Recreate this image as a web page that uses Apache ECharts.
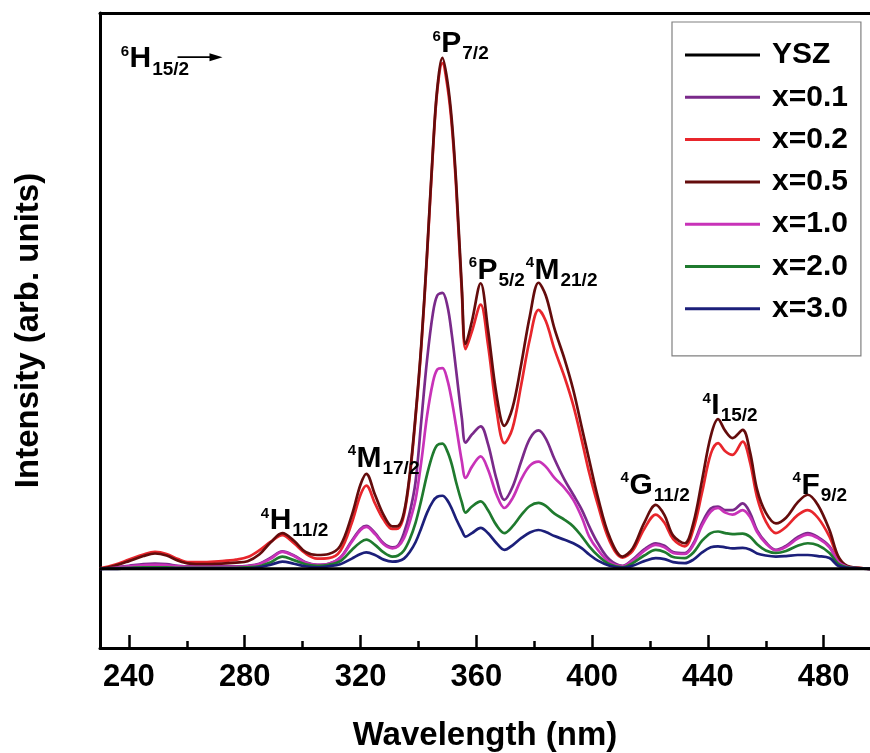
<!DOCTYPE html>
<html>
<head>
<meta charset="utf-8">
<script src="https://cdn.jsdelivr.net/npm/echarts@6/dist/echarts.min.js"></script>
<style>
  html, body { margin: 0; padding: 0; background: #fff; }
  #chart { width: 870px; height: 753px; }
</style>
</head>
<body>
<div id="chart"></div>
<script>
// Excitation spectra of Dy-doped YSZ samples (wavelength in nm, intensity in arb. units)
const wavelength = [
  230, 235, 240, 245, 249, 253, 257, 261, 266, 272, 277, 281, 285, 289,
  293, 297, 301, 305, 309, 313, 317, 320, 322, 325, 328, 331, 333,
  335, 337, 339, 341, 343, 345, 346.5, 348.3, 350, 351.5, 353, 355, 356.3,
  358.5, 361.5, 364, 367, 369.7, 372.5, 375.5, 378.5, 381.5, 384, 387, 390.5, 393.5, 396.5, 399, 402, 406, 410.5,
  414, 418, 422, 425, 428, 432, 435, 438, 441, 443.5, 446, 448.5, 452, 454.5, 457, 460, 463.5, 467, 471, 474.5, 478, 482, 485, 488, 492, 496
];

// Undoped host: flat response
const yszWavelength = [230, 496];
const yszIntensity = [0, 0];

const x01 = [
  0, 0.3, 0.6, 0.9, 1.0, 0.9, 0.6, 0.5, 0.5, 0.5, 0.5, 0.6, 1.0, 2.2,
  3.4, 2.6, 1.3, 0.8, 1.0, 2.2, 5.5, 7.8, 8.4, 7.0, 5.0, 4.2, 4.6,
  7, 11, 17, 29, 41, 50, 53.5, 54, 51.5, 46, 39, 29.5, 24.7,
  26.3, 27.9, 24.5, 17.5, 13.5, 16, 21, 25.5, 27.1, 25.5, 21.5, 17.4, 14.5, 11.5, 8.3, 5.0, 1.8, 0.6,
  1.8, 3.8, 5.0, 4.5, 3.3, 3.1, 5.0, 9, 11.8, 12.2, 11.5, 11.5, 12.8, 11, 7.5, 5.2, 3.7, 4.5, 6.2, 7.0, 6.2, 4.4, 1.5, 0.4, 0.1, 0
];
const x02 = [
  0.1, 0.8, 1.8, 2.8, 3.3, 2.9, 1.9, 1.3, 1.3, 1.5, 1.8, 2.3, 3.6, 5.3,
  6.6, 5.0, 3.0, 2.0, 2.1, 3.5, 9.0, 14.5, 16.3, 12.8, 9.6, 7.8, 7.9,
  10.5, 18, 29.5, 43.5, 61.5, 81.5, 93.5, 99, 94.5, 87, 75, 54, 43,
  46.5, 51.7, 44, 31, 24.6, 27.5, 36, 45, 50.7, 48.5, 43, 37.5, 32, 25, 18.8, 12.5, 5.5, 2.2,
  3.5, 7.8, 10.6, 9, 5.8, 4.4, 7.8, 15, 22.5, 24.6, 23, 22.3, 24.9, 21, 14, 9.3, 7.0, 8.2, 10.5, 11.5, 10, 6.3, 2.2, 0.5, 0.2, 0
];
const x05 = [
  0, 0.6, 1.5, 2.5, 3.0, 2.6, 1.6, 1.0, 0.9, 1.0, 1.2, 1.5, 2.8, 5.2,
  7.0, 5.5, 3.3, 2.7, 2.9, 4.5, 10.5, 16.5, 18.6, 14.5, 10.5, 8.3, 8.4,
  11, 18.5, 30, 44, 62, 82, 94, 100, 95.5, 88, 76, 55, 44,
  48.5, 55.9, 47, 34, 28, 31.5, 40, 49.5, 56, 53.5, 47, 41, 35, 27.5, 21.3, 14, 6.3, 2.4,
  4.0, 9.0, 12.5, 10.5, 6.5, 5.0, 9.0, 17.4, 26, 29.3, 27, 25.6, 27.2, 23, 15.5, 11, 8.9, 10, 13, 14.5, 12.5, 7.6, 2.5, 0.6, 0.2, 0
];
const x10 = [
  0, 0.2, 0.5, 0.7, 0.8, 0.7, 0.5, 0.4, 0.4, 0.4, 0.4, 0.5, 0.9, 2.0,
  3.3, 2.5, 1.2, 0.8, 1.0, 2.1, 5.3, 7.6, 8.2, 6.8, 4.8, 4.0, 4.4,
  6, 9.2, 13.5, 21, 30, 36.5, 39, 39.3, 37, 33, 28, 21, 17.8,
  20, 22, 19.5, 14.5, 11.9, 13.8, 17.5, 20.2, 21, 20, 17.8, 15.8, 13.5, 10, 6.3, 3.7, 1.3, 0.5,
  1.6, 3.5, 4.7, 4.2, 3.1, 2.9, 4.7, 8.5, 11.2, 11.9, 11, 10.6, 11.5, 10.2, 7.2, 5.0, 3.6, 4.3, 5.9, 6.7, 6.0, 4.2, 1.4, 0.4, 0.1, 0
];
const x20 = [
  0, 0.1, 0.2, 0.3, 0.3, 0.3, 0.2, 0.2, 0.2, 0.2, 0.2, 0.3, 0.5, 1.3,
  2.4, 1.7, 0.9, 0.6, 0.8, 1.5, 3.7, 5.2, 5.7, 4.7, 3.2, 2.4, 2.6,
  3.6, 5.8, 9, 13.5, 18.5, 22.5, 24.2, 24.5, 23, 20.5, 17, 13, 11,
  12.2, 13.2, 11.5, 8.5, 7.0, 8.3, 10.5, 12.3, 12.9, 12.3, 10.8, 9.6, 8.3, 6.3, 4.4, 2.6, 0.9, 0.3,
  1.1, 2.6, 3.7, 3.3, 2.3, 2.1, 3.2, 5.5, 7.0, 7.3, 7.0, 6.8, 6.9, 6.3, 4.8, 3.6, 3.1, 3.5, 4.5, 5.0, 4.6, 3.1, 1.0, 0.3, 0.1, 0
];
const x30 = [
  0, 0, 0.1, 0.1, 0.1, 0.1, 0.1, 0.1, 0.1, 0.1, 0.1, 0.1, 0.3, 0.8,
  1.4, 1.0, 0.5, 0.3, 0.5, 0.9, 2.0, 2.9, 3.2, 2.7, 1.8, 1.4, 1.5,
  2.0, 3.3, 5.2, 8, 11, 13.2, 14.1, 14.3, 13.4, 11.8, 9.8, 7.5, 6.3,
  7.0, 8.0, 7.0, 5.0, 3.7, 4.6, 6.0, 7.1, 7.6, 7.2, 6.4, 5.7, 5.0, 4.0, 2.8, 1.6, 0.6, 0.2,
  0.6, 1.5, 2.1, 1.9, 1.3, 1.1, 1.8, 3.2, 4.2, 4.4, 4.2, 4.0, 4.1, 3.8, 3.0, 2.6, 2.4, 2.5, 2.7, 2.7, 2.5, 2.1, 0.6, 0.2, 0.1, 0
];

const seriesNames = ['YSZ', 'x=0.1', 'x=0.2', 'x=0.5', 'x=1.0', 'x=2.0', 'x=3.0'];
const seriesColors = ['#000000', '#7a2a8a', '#e8262c', '#640c0c', '#c832b8', '#1f7a2e', '#1c1f7a'];

const majorTicks = [240, 280, 320, 360, 400, 440, 480];
const minorTicks = [260, 300, 340, 380, 420, 460];

// Spectroscopic term labels: superscript, letter, subscript, anchor (nm, intensity) at letter's baseline-left
const termLabels = [
  { sup: '6', main: 'H', sub: '15/2', at: [240.2, 98.0], arrow: true },
  { sup: '6', main: 'P', sub: '7/2', at: [347.9, 101.0] },
  { sup: '6', main: 'P', sub: '5/2', at: [360.4, 56.6] },
  { sup: '4', main: 'M', sub: '21/2', at: [380.1, 56.6] },
  { sup: '4', main: 'M', sub: '17/2', at: [318.6, 19.8] },
  { sup: '4', main: 'H', sub: '11/2', at: [288.6, 7.6] },
  { sup: '4', main: 'G', sub: '11/2', at: [412.9, 14.5] },
  { sup: '4', main: 'I', sub: '15/2', at: [441.2, 30.1] },
  { sup: '4', main: 'F', sub: '9/2', at: [472.3, 14.5] }
];

const FONT = 'Arial, "Liberation Sans", Helvetica, sans-serif';
const chart = echarts.init(document.getElementById('chart'), null, { renderer: 'canvas' });

function pairs(xs, ys) { return xs.map((x, i) => [x, ys[i]]); }

const curveValues = [null, x01, x02, x05, x10, x20, x30];
const series = seriesNames.map((name, i) => ({
  name,
  type: 'line',
  xAxisIndex: 0,
  yAxisIndex: 0,
  data: i === 0 ? pairs(yszWavelength, yszIntensity) : pairs(wavelength, curveValues[i]),
  showSymbol: false,
  symbol: 'none',
  smooth: i === 0 ? false : 0.35,
  color: seriesColors[i],
  lineStyle: { width: i === 0 ? 3 : 2.7, color: seriesColors[i] },
  z: i === 0 ? 5 : 2,
  silent: true,
  animation: false
}));

const axisBase = { type: 'value', min: 230, max: 496, splitLine: { show: false } };

const option = {
  animation: false,
  backgroundColor: '#ffffff',
  grid: { left: 100, right: 0, top: 13, bottom: 105, containLabel: false, outerBoundsMode: 'none' },
  xAxis: [
    Object.assign({}, axisBase, {
      position: 'bottom',
      axisLine: { onZero: false, lineStyle: { color: '#000', width: 3 } },
      axisTick: { inside: true, length: 13, customValues: majorTicks, lineStyle: { color: '#000', width: 2.5 } },
      axisLabel: { customValues: majorTicks, color: '#000', fontSize: 31, fontWeight: 'bold', fontFamily: FONT, margin: 14 },
      name: 'Wavelength (nm)',
      nameLocation: 'middle',
      nameGap: 71,
      nameTextStyle: { color: '#000', fontSize: 33, fontWeight: 'bold', fontFamily: FONT }
    }),
    Object.assign({}, axisBase, {
      position: 'bottom',
      axisLine: { show: false, onZero: false },
      axisTick: { inside: true, length: 7, customValues: minorTicks, lineStyle: { color: '#000', width: 2.5 } },
      axisLabel: { show: false }
    }),
    Object.assign({}, axisBase, {
      position: 'top',
      axisLine: { onZero: false, lineStyle: { color: '#000', width: 3 } },
      axisTick: { show: false },
      axisLabel: { show: false }
    })
  ],
  yAxis: {
    type: 'value',
    min: -15.5,
    max: 108.8,
    position: 'left',
    axisLine: { show: true, onZero: false, lineStyle: { color: '#000', width: 3 } },
    axisTick: { show: false },
    axisLabel: { show: false },
    splitLine: { show: false },
    name: 'Intensity (arb. units)',
    nameLocation: 'middle',
    nameGap: 55,
    nameTextStyle: { color: '#000', fontSize: 33, fontWeight: 'bold', fontFamily: FONT }
  },
  legend: {
    show: true,
    orient: 'vertical',
    left: 672,
    top: 22,
    padding: [12, 13, 26, 13],
    itemGap: 0.3,
    itemWidth: 75,
    itemHeight: 3,
    icon: 'rect',
    selectedMode: false,
    borderColor: '#808080',
    borderWidth: 1.2,
    backgroundColor: '#ffffff',
    textStyle: { color: '#000', fontSize: 30, fontWeight: 'bold', fontFamily: FONT, lineHeight: 42, padding: [0, 0, 0, 7] },
    data: seriesNames
  },
  series
};

chart.setOption(option);

// Place term labels at their data anchors, with super/subscripts measured from the main letter
const measureCtx = document.createElement('canvas').getContext('2d');
function textWidth(str, size) {
  measureCtx.font = 'bold ' + size + 'px ' + FONT;
  return measureCtx.measureText(str).width;
}
const MAIN = 30, SUP = 15, SUB = 19;
const graphics = [];
termLabels.forEach((t) => {
  const [px, py] = chart.convertToPixel({ gridIndex: 0 }, t.at);
  const wMain = textWidth(t.main, MAIN);
  const capTop = py - 0.716 * MAIN;
  const supBase = capTop - 1 + 0.716 * SUP;
  const subBase = py + 7;
  const txt = (x, base, size, str, align) => ({
    type: 'text',
    x: x,
    y: base - 0.31 * size,
    silent: true,
    z: 10,
    style: { text: str, fontSize: size, fontWeight: 'bold', fontFamily: FONT, fill: '#000', align: align, verticalAlign: 'middle' }
  });
  graphics.push(txt(px - 0.5, supBase, SUP, t.sup, 'right'));
  graphics.push(txt(px, py, MAIN, t.main, 'left'));
  const subX = px + wMain + 1;
  graphics.push(txt(subX, subBase, SUB, t.sub, 'left'));
  if (t.arrow) {
    const ay = py - 11;
    const x0 = px + 48, tip = px + 93;
    graphics.push({ type: 'line', silent: true, z: 10, shape: { x1: x0, y1: ay, x2: tip - 10, y2: ay }, style: { stroke: '#000', lineWidth: 1.6 } });
    graphics.push({ type: 'polygon', silent: true, z: 10, shape: { points: [[tip, ay], [tip - 13, ay - 4], [tip - 13, ay + 4]] }, style: { fill: '#000' } });
  }
});
chart.setOption({ graphic: graphics });
</script>
</body>
</html>
